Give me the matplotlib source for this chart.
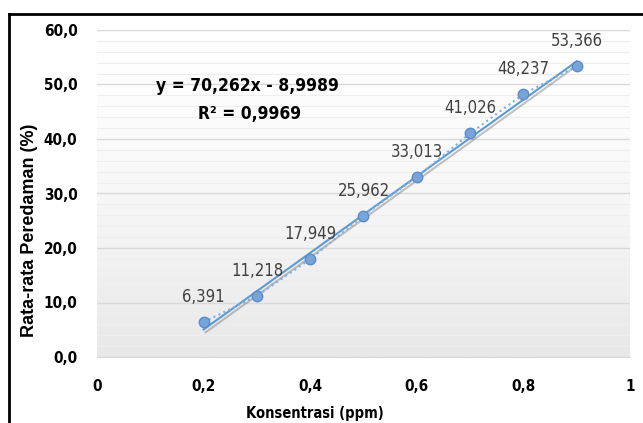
import numpy as np
import matplotlib
matplotlib.use('Agg')
import matplotlib.pyplot as plt
import matplotlib.patheffects as pe
from matplotlib.lines import Line2D
from matplotlib.ticker import MultipleLocator, FuncFormatter

konsentrasi = [0.2, 0.3, 0.4, 0.5, 0.6, 0.7, 0.8, 0.9]
peredaman = [6.391, 11.218, 17.949, 25.962, 33.013, 41.026, 48.237, 53.366]
label_teks = ['6,391', '11,218', '17,949', '25,962', '33,013', '41,026', '48,237', '53,366']
slope = 70.262
intercept = -8.9989

NARROW = ['DejaVu Sans']


def koma(v, pos):
    return ('%.1f' % v).replace('.', ',')


def koma_x(v, pos):
    if abs(v) < 1e-9:
        return '0'
    if abs(v - 1) < 1e-9:
        return '1'
    return ('%.1f' % v).replace('.', ',')


def main():
    fig = plt.figure(figsize=(6.43, 4.23), dpi=100)
    ax = fig.add_axes([97 / 643, 1 - 357 / 423, 533 / 643, 327 / 423])

    # latar gradasi abu-abu
    grad = np.linspace(0, 1, 256).reshape(-1, 1) ** 1.5
    ax.imshow(grad, extent=[0, 1, 0, 60], aspect='auto', origin='upper',
              cmap=matplotlib.colors.LinearSegmentedColormap.from_list('g', ['#ffffff', '#e8e8e8']),
              zorder=0)

    ax.set_xlim(0, 1)
    ax.set_ylim(0, 60)
    ax.yaxis.set_major_locator(MultipleLocator(10))
    ax.yaxis.set_minor_locator(MultipleLocator(2))
    ax.xaxis.set_major_locator(MultipleLocator(0.2))
    ax.yaxis.set_major_formatter(FuncFormatter(koma))
    ax.xaxis.set_major_formatter(FuncFormatter(koma_x))
    ax.grid(axis='y', which='major', color='#d9d9d9', linewidth=1.0, zorder=1)
    ax.grid(axis='y', which='minor', color='#eeeeee', linewidth=0.8, zorder=1)
    ax.tick_params(axis='x', which='both', length=0, pad=16)
    ax.tick_params(axis='y', which='both', length=0, pad=14)
    for sp in ax.spines.values():
        sp.set_visible(False)
    ax.spines['bottom'].set_visible(True)
    ax.spines['bottom'].set_color('#d9d9d9')
    for t in ax.get_xticklabels() + ax.get_yticklabels():
        t.set_family(NARROW)
        t.set_fontweight('bold')
        t.set_fontstretch('condensed')
        t.set_fontsize(11)

    # garis tren linear
    xt = np.array([konsentrasi[0], konsentrasi[-1]])
    yt = slope * xt + intercept
    ax.plot(xt, yt, color='#5b9bd5', linewidth=1.5, zorder=3,
            path_effects=[pe.SimpleLineShadow(offset=(1.5, -2), shadow_color='#555555', alpha=0.35),
                          pe.Normal()])

    # titik data
    ax.plot(konsentrasi, peredaman, linestyle=':', color='#7fb0e0', linewidth=1.5,
            marker='o', markersize=7.5, markerfacecolor='#78a4d8', markeredgecolor='#5a8ccc',
            markeredgewidth=1, zorder=4)

    for x, y, s in zip(konsentrasi, peredaman, label_teks):
        ax.annotate(s, (x, y), xytext=(0, 18), textcoords='offset points',
                    ha='center', va='center', fontsize=12, family=NARROW,
                    fontstretch='condensed', color='#404040', zorder=5)

    ax.text(0.283, 49.7, 'y = 70,262x - 8,9989', fontsize=12.5, fontweight='bold',
            family=NARROW, fontstretch='condensed', ha='center', va='center', color='black')
    ax.text(0.287, 44.6, 'R² = 0,9969', fontsize=12.5, fontweight='bold',
            family=NARROW, fontstretch='condensed', ha='center', va='center', color='black')

    ax.set_xlabel('Konsentrasi (ppm)', family=NARROW, fontstretch='condensed',
                  fontweight='bold', fontsize=10.5, va='center')
    ax.xaxis.set_label_coords(0.409, -0.174)
    ax.set_ylabel('Rata-rata Peredaman (%)', fontweight='bold', fontsize=13, va='center',
                  family=['Liberation Sans', 'DejaVu Sans'])
    ax.yaxis.set_label_coords(-0.126, 0.388)

    # bingkai chart
    fig.add_artist(Line2D([9 / 643, 9 / 643], [0, 1 - 14 / 423], color='black', linewidth=2))
    fig.add_artist(Line2D([9 / 643, 1], [1 - 14 / 423, 1 - 14 / 423], color='black', linewidth=2))

    fig.savefig('out.png', dpi=100)


if __name__ == '__main__':
    main()
